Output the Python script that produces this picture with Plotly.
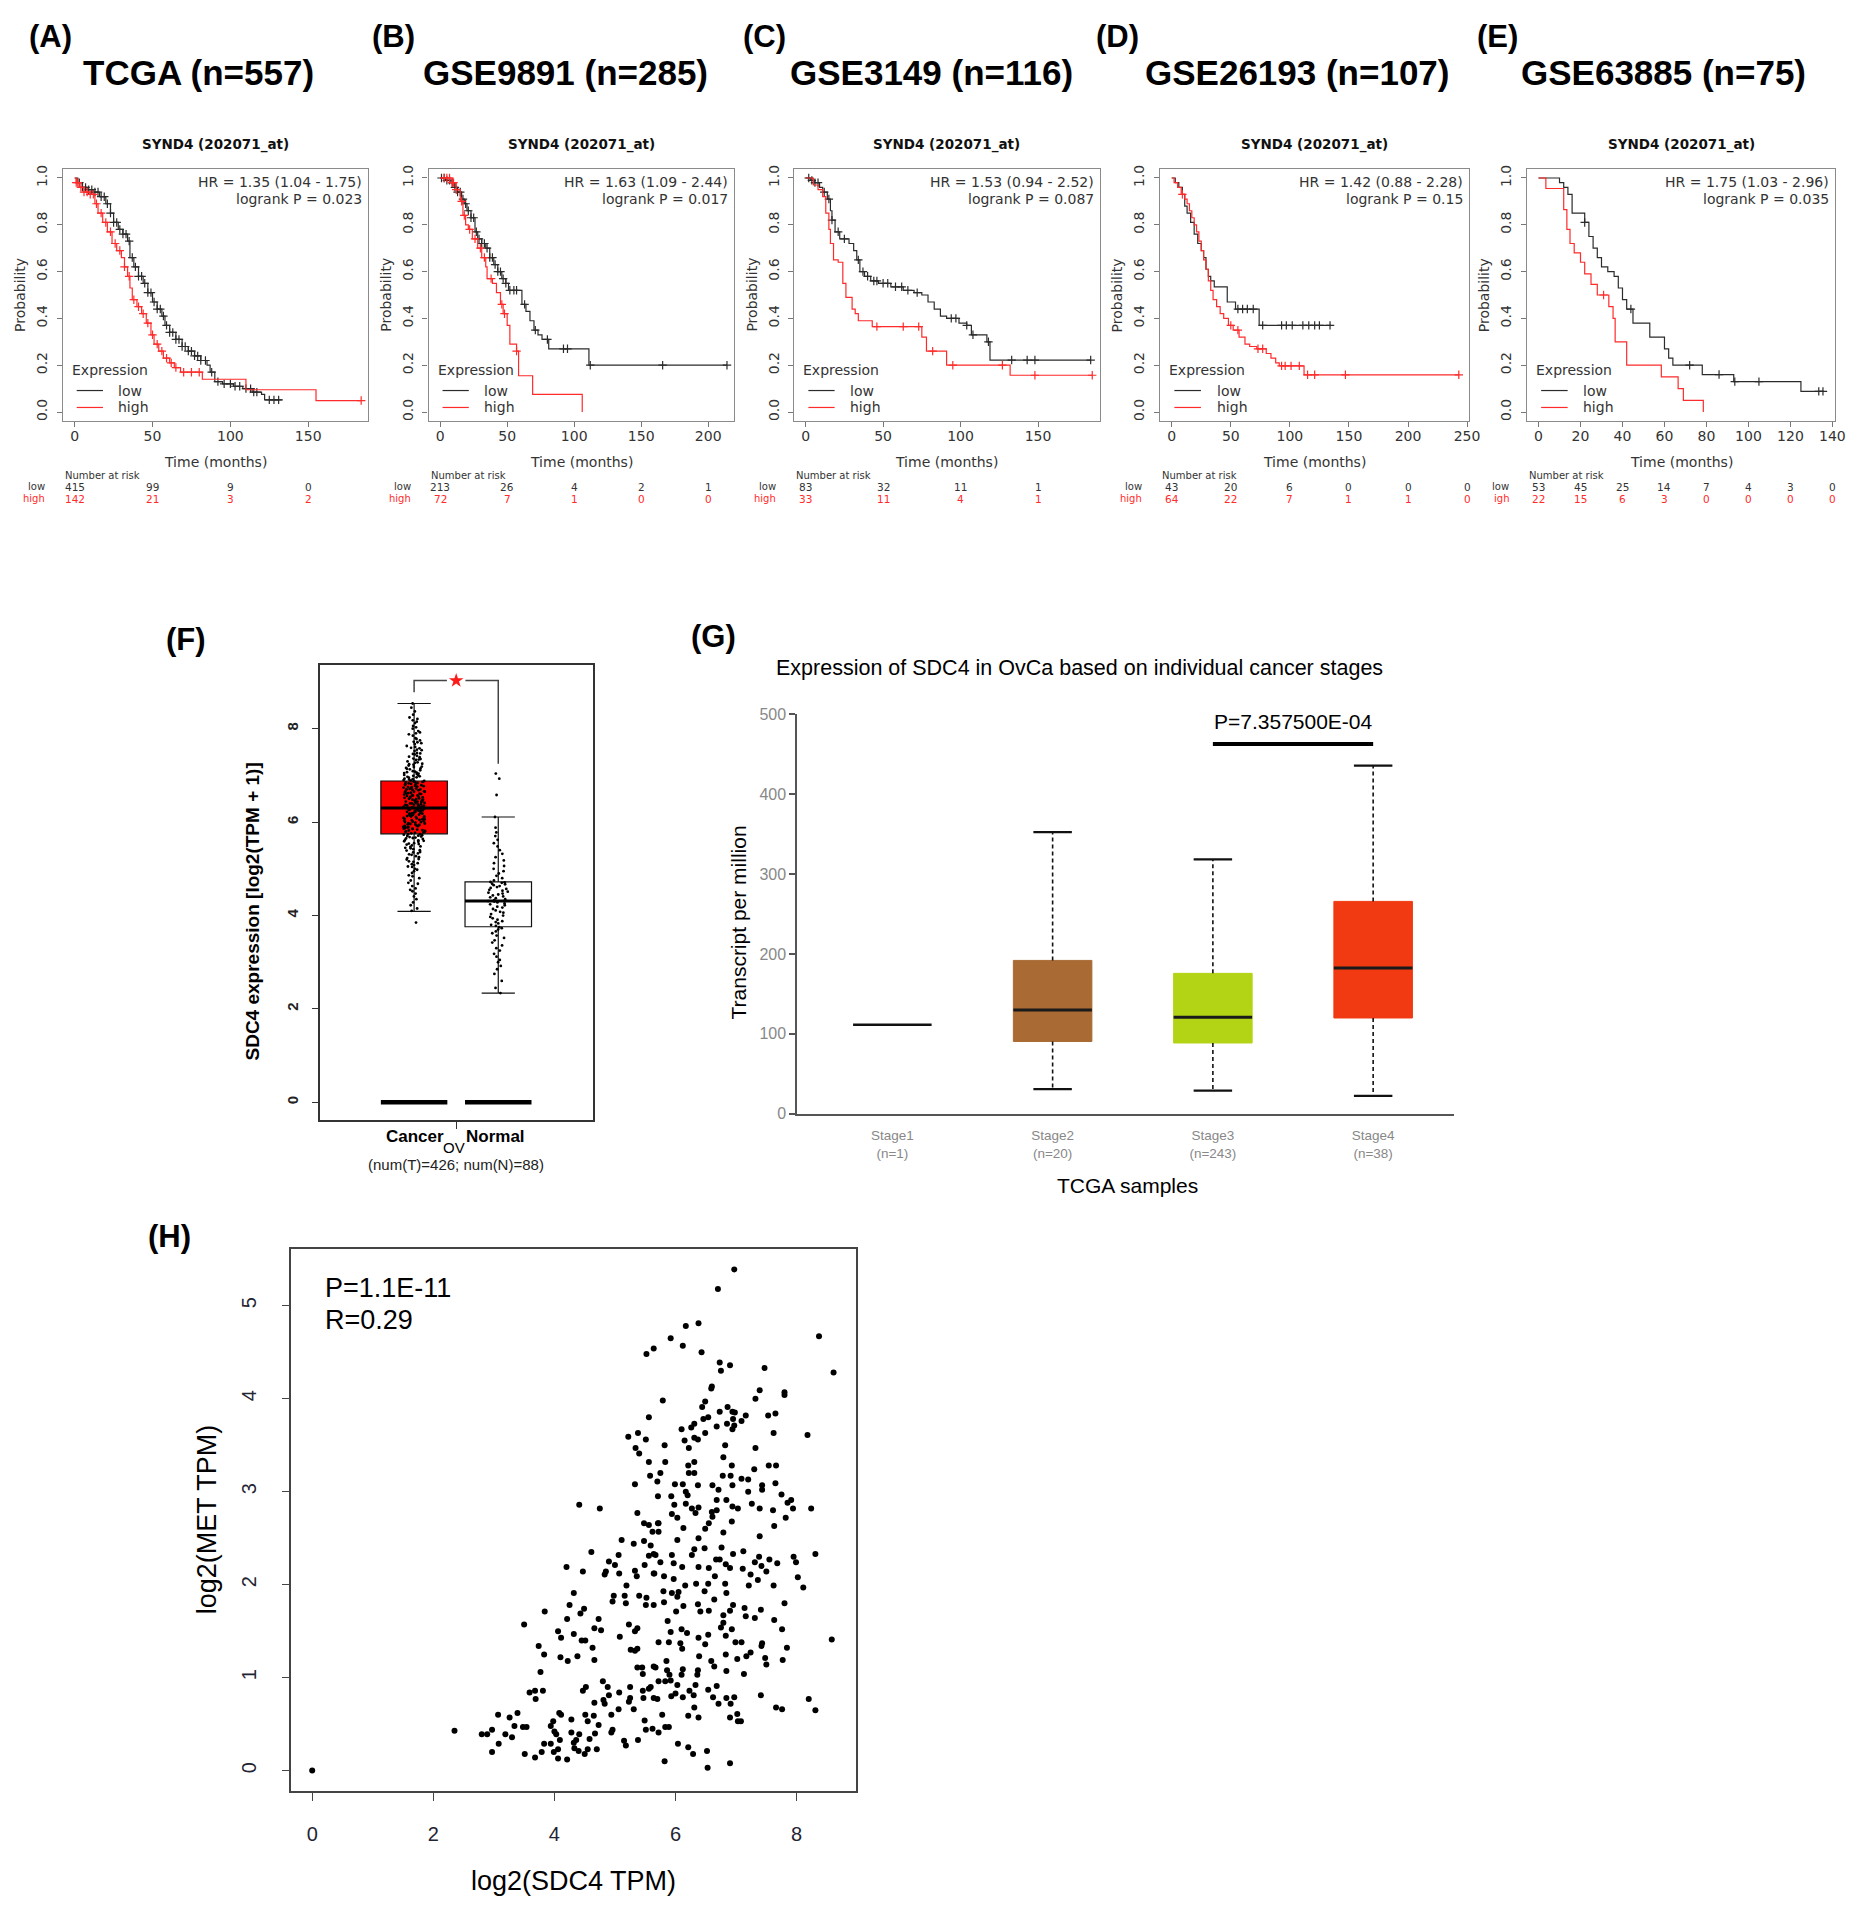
import numpy as np
import plotly.graph_objects as go

# ======================= DATA =======================
# ---- Kaplan-Meier panels (A-E) ----
km_labels = ["(A)", "(B)", "(C)", "(D)", "(E)"]
km_cohorts = ["TCGA (n=557)", "GSE9891 (n=285)", "GSE3149 (n=116)", "GSE26193 (n=107)", "GSE63885 (n=75)"]
km_title = "SYND4 (202071_at)"
km_hr = ["HR = 1.35 (1.04 - 1.75)", "HR = 1.63 (1.09 - 2.44)", "HR = 1.53 (0.94 - 2.52)",
         "HR = 1.42 (0.88 - 2.28)", "HR = 1.75 (1.03 - 2.96)"]
km_logrank = ["logrank P = 0.023", "logrank P = 0.017", "logrank P = 0.087",
              "logrank P = 0.15", "logrank P = 0.035"]
km_xticks = [[0, 50, 100, 150], [0, 50, 100, 150, 200], [0, 50, 100, 150],
             [0, 50, 100, 150, 200, 250], [0, 20, 40, 60, 80, 100, 120, 140]]
km_yticks = [0.0, 0.2, 0.4, 0.6, 0.8, 1.0]
km_yticktext = ["0.0", "0.2", "0.4", "0.6", "0.8", "1.0"]
risk_low = [[415, 99, 9, 0], [213, 26, 4, 2, 1], [83, 32, 11, 1], [43, 20, 6, 0, 0, 0],
            [53, 45, 25, 14, 7, 4, 3, 0]]
risk_high = [[142, 21, 3, 2], [72, 7, 1, 0, 0], [33, 11, 4, 1], [64, 22, 7, 1, 1, 0],
             [22, 15, 6, 3, 0, 0, 0, 0]]
risk_row_names = [["low", "high"], ["low", "high"], ["low", "high"], ["low", "high"], ["low", "igh"]]

A_low_t = [2, 5, 8, 12, 16, 20, 23, 25, 28, 31, 34, 35.5, 38, 41, 44, 47, 50, 53, 56, 58, 61, 65, 69, 73, 77,
           81, 85, 87, 90, 95, 102, 108, 114, 120, 122]
A_low_s = [0.98, 0.96, 0.95, 0.94, 0.92, 0.89, 0.85, 0.81, 0.78, 0.76, 0.73, 0.66, 0.62, 0.58, 0.55, 0.51,
           0.47, 0.44, 0.41, 0.37, 0.34, 0.31, 0.28, 0.26, 0.24, 0.22, 0.20, 0.17, 0.13, 0.12, 0.11, 0.10,
           0.085, 0.075, 0.052]
A_low_end = 133
A_low_cens = [3, 5, 7, 9, 11, 13, 15, 17, 19, 21, 23, 25, 27, 29, 31, 33, 35, 37, 39, 41, 43, 45, 47, 49, 51,
              53, 55, 57, 59, 61, 63, 65, 67, 69, 71, 73, 75, 77, 79, 81, 84, 88, 92, 96, 100, 103, 106, 110,
              113, 115, 117, 125, 128, 131]
A_high_t = [1, 3, 6, 10, 13, 15, 18, 21, 24, 27, 30, 32, 34, 35.5, 37, 40, 43, 46, 49, 51, 54, 57, 61, 64,
            68, 82, 110, 155]
A_high_s = [0.98, 0.96, 0.94, 0.93, 0.89, 0.85, 0.81, 0.77, 0.72, 0.69, 0.66, 0.62, 0.58, 0.53, 0.48, 0.45,
            0.42, 0.38, 0.33, 0.29, 0.26, 0.23, 0.21, 0.19, 0.17, 0.14, 0.095, 0.049]
A_high_end = 184
A_high_cens = [1, 2, 4, 6, 8, 10, 12, 14, 17, 20, 23, 26, 29, 32, 35, 38, 41, 44, 47, 50, 53, 56, 59, 62, 65,
               70, 75, 80, 184]

B_low_t = [4, 8, 11, 13, 16, 18, 20, 23, 26, 28, 31, 34, 37, 40, 43, 46, 49, 51, 61, 64, 67, 70, 73, 76, 81, 111]
B_low_s = [0.99, 0.98, 0.96, 0.94, 0.91, 0.89, 0.86, 0.83, 0.77, 0.74, 0.72, 0.70, 0.66, 0.63, 0.60, 0.57,
           0.55, 0.52, 0.46, 0.43, 0.39, 0.35, 0.33, 0.31, 0.27, 0.20]
B_low_end = 214
B_low_cens = [1, 3, 5, 7, 9, 11, 13, 15, 17, 19, 21, 23, 25, 27, 29, 31, 33, 35, 37, 39, 41, 43, 45, 47, 49,
              52, 55, 57, 63, 71, 80, 92, 95, 112, 166, 214]
B_high_t = [9, 12, 15, 17, 19, 21, 24, 28, 31, 34, 35, 39, 42, 45, 47, 50, 52, 57, 58.5, 69, 106]
B_high_s = [0.98, 0.95, 0.90, 0.84, 0.80, 0.78, 0.74, 0.70, 0.66, 0.62, 0.57, 0.55, 0.51, 0.46, 0.42, 0.37,
            0.29, 0.26, 0.155, 0.075, 0.0]
B_high_end = 106
B_high_cens = [3, 5, 7, 9, 10, 12, 16, 18, 22, 26, 30, 33, 38, 46, 48, 57]

C_low_t = [3, 6, 9, 11, 14, 16, 17, 19, 22, 28, 31, 33, 35, 38, 42, 47, 55, 63, 70, 75, 79, 83, 87, 91, 99,
           104, 107, 117, 119]
C_low_s = [0.99, 0.98, 0.96, 0.94, 0.91, 0.86, 0.82, 0.77, 0.74, 0.72, 0.69, 0.65, 0.60, 0.58, 0.56, 0.55,
           0.535, 0.52, 0.51, 0.50, 0.47, 0.44, 0.41, 0.40, 0.38, 0.37, 0.33, 0.30, 0.222]
C_low_end = 184
C_low_cens = [2, 4, 6, 8, 12, 15, 17, 21, 25, 34, 37, 40, 44, 46, 50, 53, 58, 62, 66, 72, 94, 97, 104, 108,
              118, 133, 143, 148, 184]
C_high_t = [5, 8, 11, 13, 15, 16, 18, 21, 24, 26, 30, 32, 34, 43, 75, 78, 91, 132]
C_high_s = [0.97, 0.95, 0.92, 0.85, 0.78, 0.72, 0.65, 0.64, 0.55, 0.49, 0.44, 0.42, 0.39, 0.365, 0.32,
            0.26, 0.20, 0.157]
C_high_end = 185
C_high_cens = [46, 63, 73, 82, 95, 127, 148, 185]

D_low_t = [3, 6, 9, 11, 13, 16, 19, 22, 25, 27, 29, 31, 33, 36, 47, 54, 74]
D_low_s = [0.98, 0.96, 0.93, 0.88, 0.85, 0.81, 0.76, 0.72, 0.69, 0.66, 0.61, 0.58, 0.56, 0.535, 0.47, 0.44,
           0.37]
D_low_end = 135
D_low_cens = [56, 60, 64, 69, 77, 93, 97, 102, 111, 116, 121, 125, 134]
D_high_t = [2, 5, 8, 11, 13, 15, 17, 19, 21, 23, 25, 27, 29, 31, 33, 35, 38, 41, 44, 48, 52, 57, 62, 66, 72,
            80, 84, 88, 91, 112]
D_high_s = [0.98, 0.96, 0.93, 0.91, 0.89, 0.86, 0.83, 0.80, 0.77, 0.73, 0.69, 0.65, 0.61, 0.56, 0.52, 0.48,
            0.45, 0.42, 0.40, 0.37, 0.35, 0.32, 0.29, 0.28, 0.27, 0.25, 0.23, 0.21, 0.197, 0.159]
D_high_end = 243
D_high_cens = [9, 50, 56, 73, 77, 93, 96, 101, 108, 115, 121, 147, 243]

E_low_t = [10, 12, 14, 16, 22, 24, 26, 28, 30, 33, 36, 38, 40, 42, 45, 53, 60, 62, 64, 78, 93, 125]
E_low_s = [0.98, 0.96, 0.93, 0.85, 0.81, 0.75, 0.70, 0.66, 0.62, 0.60, 0.58, 0.53, 0.48, 0.44, 0.38, 0.32,
           0.27, 0.23, 0.20, 0.16, 0.13, 0.088]
E_low_end = 136
E_low_cens = [22, 44, 72, 86, 93.5, 105, 133.5, 135.5]
E_high_t = [3.5, 12, 13.5, 15, 17, 20, 22, 25, 28, 33.5, 35.5, 36.5, 42, 58.5, 66.5, 69, 78.5]
E_high_s = [0.955, 0.865, 0.78, 0.72, 0.68, 0.64, 0.59, 0.545, 0.50, 0.45, 0.40, 0.30, 0.20, 0.15, 0.10,
            0.05, 0.0]
E_high_end = 78.5
E_high_cens = [31]

km_curves = [
    (A_low_t, A_low_s, A_low_end, A_low_cens, A_high_t, A_high_s, A_high_end, A_high_cens),
    (B_low_t, B_low_s, B_low_end, B_low_cens, B_high_t, B_high_s, B_high_end, B_high_cens),
    (C_low_t, C_low_s, C_low_end, C_low_cens, C_high_t, C_high_s, C_high_end, C_high_cens),
    (D_low_t, D_low_s, D_low_end, D_low_cens, D_high_t, D_high_s, D_high_end, D_high_cens),
    (E_low_t, E_low_s, E_low_end, E_low_cens, E_high_t, E_high_s, E_high_end, E_high_cens),
]

# ---- Panel F: GEPIA box plot ----
f_groups = ["Cancer", "Normal"]
f_q1 = [5.75, 3.76]
f_median = [6.30, 4.31]
f_q3 = [6.88, 4.72]
f_lowerfence = [4.09, 2.34]
f_upperfence = [8.54, 6.11]
f_cancer_pts = [3.85,
    4.10, 4.15, 4.22, 4.28, 4.35, 4.41, 4.47, 4.52, 4.58, 4.63, 4.70, 4.75, 4.80, 4.86, 4.91, 4.95, 5.00,
    5.04, 5.08, 5.12, 5.16, 5.20, 5.23, 5.27, 5.30, 5.33, 5.36, 5.39, 5.42, 5.45, 5.48, 5.50, 5.53, 5.55,
    5.58, 5.60, 5.62, 5.64, 5.66, 5.68, 5.70, 5.71, 5.72, 5.73, 5.74,
    5.76, 5.77, 5.79, 5.80, 5.81, 5.83, 5.84, 5.86, 5.87, 5.89, 5.90, 5.92, 5.93, 5.94, 5.96, 5.97, 5.99,
    6.00, 6.01, 6.03, 6.04, 6.05, 6.07, 6.08, 6.09, 6.11, 6.12, 6.13, 6.14, 6.16, 6.17, 6.18, 6.19, 6.20,
    6.21, 6.22, 6.23, 6.24, 6.25, 6.26, 6.27, 6.28, 6.29, 6.29, 6.30,
    6.31, 6.32, 6.33, 6.34, 6.35, 6.36, 6.37, 6.38, 6.40, 6.41, 6.42, 6.43, 6.45, 6.46, 6.47, 6.48, 6.50,
    6.51, 6.52, 6.54, 6.55, 6.56, 6.58, 6.59, 6.60, 6.62, 6.63, 6.64, 6.66, 6.67, 6.69, 6.70, 6.71, 6.73,
    6.74, 6.76, 6.77, 6.79, 6.80, 6.82, 6.83, 6.84, 6.85, 6.86, 6.87,
    6.89, 6.91, 6.93, 6.95, 6.97, 6.99, 7.01, 7.03, 7.05, 7.07, 7.09, 7.11, 7.14, 7.16, 7.19, 7.21, 7.24,
    7.27, 7.30, 7.33, 7.36, 7.39, 7.42, 7.45, 7.48, 7.52, 7.55, 7.59, 7.63, 7.67, 7.71, 7.75, 7.80, 7.85,
    7.90, 7.95, 8.00, 8.06, 8.12, 8.18, 8.24, 8.30, 8.37, 8.45, 8.54,
    5.05, 5.15, 5.25, 5.35, 5.44, 5.52, 5.59, 5.65, 5.69, 5.78, 5.82, 5.85, 5.88, 5.91, 5.95, 5.98, 6.02,
    6.06, 6.10, 6.15, 6.18, 6.22, 6.26, 6.33, 6.37, 6.39, 6.44, 6.49, 6.53, 6.57, 6.61, 6.65, 6.68, 6.72,
    6.75, 6.78, 6.81, 6.88, 6.92, 6.96, 7.00, 7.04, 7.08, 7.13, 7.18, 7.23, 7.28, 7.34, 7.40, 7.47, 7.54,
    7.61, 7.69, 7.78, 7.88, 8.03, 8.21, 4.55, 4.68, 4.84, 4.98, 5.10, 5.21, 5.31, 5.40, 5.47, 5.54, 5.61,
    5.67, 5.74, 5.80, 5.86, 5.90, 5.95, 6.00, 6.06, 6.12, 6.17, 6.21, 6.25, 6.28, 6.32, 6.36, 6.40, 6.44,
    6.48, 6.52, 6.57, 6.61, 6.65, 6.70, 6.75, 6.81, 6.86, 6.90, 6.98, 7.06, 7.15, 7.25, 7.35, 7.46, 7.58,
    7.72, 7.92, 8.15]
f_normal_pts = [
    2.34, 2.45, 2.60, 2.75, 2.85, 2.92, 3.00, 3.05, 3.12, 3.18, 3.25, 3.30, 3.36, 3.42, 3.47, 3.52, 3.57,
    3.62, 3.66, 3.70, 3.73, 3.75,
    3.78, 3.80, 3.83, 3.86, 3.88, 3.91, 3.94, 3.97, 4.00, 4.03, 4.06, 4.08, 4.11, 4.14, 4.17, 4.19, 4.22,
    4.24, 4.26, 4.28, 4.30, 4.31,
    4.33, 4.35, 4.37, 4.39, 4.41, 4.43, 4.45, 4.47, 4.49, 4.51, 4.53, 4.55, 4.57, 4.59, 4.61, 4.63, 4.65,
    4.67, 4.68, 4.70, 4.71, 4.72,
    4.75, 4.80, 4.85, 4.90, 4.95, 5.00, 5.06, 5.12, 5.18, 5.25, 5.32, 5.40, 5.48, 5.55, 5.62, 5.70, 5.78,
    5.88, 6.11, 6.58, 6.93, 7.04]
f_bracket_top = 9.03
f_bracket_left_bottom = 8.78
f_bracket_right_bottom = 7.25
f_yticks = [0, 2, 4, 6, 8]

# ---- Panel G: UALCAN stage box plot ----
g_stages = ["Stage1", "Stage2", "Stage3", "Stage4"]
g_n = ["(n=1)", "(n=20)", "(n=243)", "(n=38)"]
g_stage1_value = 111.4
g_q1 = [90.5, 88.6, 119.9]        # Stage2..Stage4
g_median = [129.9, 120.9, 182.5]
g_q3 = [192.0, 175.8, 265.9]
g_lower = [30.8, 28.9, 22.3]
g_upper = [352.6, 318.5, 436.0]
g_colors = ["#A96B33", "#B3D415", "#F13A12"]
g_pvalue_text = "P=7.357500E-04"
g_bracket_value = 463
g_yticks = [0, 100, 200, 300, 400, 500]

# ---- Panel H: scatter ----
h_points = [
    (0.00, 0.00),
    (5.52, 4.48), (5.64, 4.54), (5.56, 3.80), (5.22, 3.59), (5.38, 3.63), (5.51, 3.56), (5.34, 3.47),
    (5.40, 3.41), (5.56, 3.32), (5.58, 3.17), (5.33, 3.08), (4.41, 2.86), (4.75, 2.82), (5.37, 2.77),
    (5.48, 2.66),
    (6.97, 5.39), (6.70, 5.18), (6.17, 4.78), (6.38, 4.81), (5.92, 4.65), (6.12, 4.57), (6.43, 4.50),
    (8.37, 4.67), (8.61, 4.28), (6.73, 4.39), (6.90, 4.36), (6.75, 4.30), (7.47, 4.33), (6.60, 4.13),
    (6.59, 4.11), (7.39, 4.09), (7.80, 4.07), (7.80, 4.04), (7.32, 4.00), (5.79, 3.98), (6.49, 3.97),
    (6.44, 3.91), (6.86, 3.91), (6.94, 3.86), (6.73, 3.86), (6.98, 3.85), (7.16, 3.82), (6.54, 3.80),
    (6.46, 3.78), (7.53, 3.82), (7.65, 3.84), (6.95, 3.78), (7.09, 3.76), (6.85, 3.73), (6.97, 3.71),
    (6.94, 3.67), (6.31, 3.73), (6.26, 3.69), (6.10, 3.67), (6.68, 3.70), (6.49, 3.63), (7.62, 3.63),
    (8.18, 3.61), (6.15, 3.55), (6.31, 3.58), (6.37, 3.56), (5.82, 3.50), (6.22, 3.47), (6.82, 3.50),
    (7.32, 3.47), (6.79, 3.37), (5.83, 3.32), (6.21, 3.28), (6.31, 3.32), (6.93, 3.28), (7.30, 3.24),
    (7.54, 3.28), (7.66, 3.28), (6.22, 3.20), (6.31, 3.20), (5.75, 3.20), (5.70, 3.11), (6.78, 3.17),
    (6.91, 3.17), (7.09, 3.14), (7.20, 3.13), (5.99, 3.08), (6.12, 3.08), (6.37, 3.07), (6.61, 3.07),
    (6.94, 3.07), (7.43, 3.07), (7.65, 3.09), (6.17, 3.00), (6.20, 2.96), (5.93, 2.95), (5.71, 2.95),
    (6.71, 3.02), (7.20, 3.00), (7.43, 3.02), (7.75, 2.97), (6.68, 2.91), (6.84, 2.91), (6.17, 2.87),
    (5.98, 2.86), (6.27, 2.82), (6.38, 2.83), (6.94, 2.84), (7.03, 2.82), (7.26, 2.87), (7.39, 2.82),
    (7.61, 2.80), (7.85, 2.88), (7.91, 2.91), (7.94, 2.82), (8.24, 2.82), (5.94, 2.76), (6.03, 2.72),
    (6.33, 2.77), (6.60, 2.78), (6.68, 2.80), (6.61, 2.73), (5.71, 2.66), (6.93, 2.68), (7.82, 2.72),
    (5.62, 2.57), (5.11, 2.48), (5.31, 2.44), (5.48, 2.47), (5.59, 2.42), (4.61, 2.35), (5.06, 2.32),
    (5.56, 2.31), (5.64, 2.33), (4.20, 2.19), (4.90, 2.25), (5.00, 2.21), (5.49, 2.21), (4.85, 2.14),
    (4.83, 2.11), (4.47, 2.14), (5.07, 2.12), (5.33, 2.15), (5.36, 2.09), (5.64, 2.12), (5.19, 1.99),
    (4.32, 1.91), (4.98, 1.88), (4.96, 1.82), (5.16, 1.88), (5.18, 1.80), (5.40, 1.88), (5.52, 1.86),
    (5.51, 1.78), (5.64, 1.78), (4.25, 1.78), (3.84, 1.71), (4.49, 1.74), (4.43, 1.69), (4.21, 1.63),
    (4.73, 1.63), (3.50, 1.57), (5.23, 1.57), (5.37, 1.53), (5.33, 1.50), (4.66, 1.53), (4.77, 1.51),
    (4.06, 1.50), (4.11, 1.43), (4.32, 1.47), (4.45, 1.40), (4.51, 1.40), (5.08, 1.44), (3.74, 1.34),
    (3.83, 1.25), (4.10, 1.22), (4.22, 1.18), (4.38, 1.23), (4.63, 1.32), (4.66, 1.19), (5.26, 1.30),
    (5.37, 1.31), (5.33, 1.29), (3.77, 1.06), (5.37, 1.11), (5.45, 1.11), (5.46, 1.04), (5.64, 1.12),
    (4.47, 0.86), (4.52, 0.90), (4.80, 0.96), (4.88, 0.90), (4.90, 0.81), (4.81, 0.76), (4.83, 0.72),
    (5.07, 0.84), (5.25, 0.90), (5.25, 0.78), (5.23, 0.74), (5.46, 0.86), (5.47, 0.78), (5.56, 0.88),
    (5.64, 0.78), (3.59, 0.84), (3.68, 0.86), (3.81, 0.86), (3.69, 0.77), (4.66, 0.73), (5.31, 0.66),
    (5.06, 0.66), (4.94, 0.60), (3.07, 0.60), (3.39, 0.62), (3.26, 0.57), (3.34, 0.48), (3.48, 0.47),
    (3.54, 0.47), (4.08, 0.62), (4.11, 0.60), (4.28, 0.55), (4.51, 0.60), (4.65, 0.59), (4.55, 0.53),
    (3.98, 0.53), (3.94, 0.48), (4.73, 0.49), (5.49, 0.54), (5.51, 0.44), (5.62, 0.45), (2.35, 0.43),
    (2.80, 0.39), (2.89, 0.39), (2.97, 0.44), (3.19, 0.39), (3.30, 0.36), (3.08, 0.29), (2.97, 0.20),
    (4.00, 0.42), (4.03, 0.39), (4.28, 0.41), (4.41, 0.39), (4.36, 0.33), (4.32, 0.30), (4.58, 0.34),
    (4.67, 0.40), (4.94, 0.41), (4.96, 0.44), (4.09, 0.33), (3.83, 0.29), (3.94, 0.29), (5.15, 0.32),
    (5.18, 0.27), (5.38, 0.33), (4.06, 0.23), (3.99, 0.20), (4.06, 0.13), (4.21, 0.12), (3.79, 0.20),
    (3.68, 0.14), (3.51, 0.18), (4.33, 0.24), (4.40, 0.21), (4.50, 0.18), (4.55, 0.23), (4.70, 0.23),
    (7.63, 2.63), (7.39, 2.52), (8.31, 2.33), (5.56, 2.64), (5.72, 2.66), (5.72, 2.57), (6.13, 2.61),
    (6.49, 2.60), (6.55, 2.66), (6.79, 2.56), (6.03, 2.48), (6.38, 2.50), (6.31, 2.38), (6.48, 2.39),
    (6.76, 2.40), (5.67, 2.32), (5.75, 2.24), (5.94, 2.32), (5.97, 2.23), (6.11, 2.19), (6.27, 2.32),
    (6.38, 2.19), (6.55, 2.18), (6.67, 2.27), (6.73, 2.27), (6.95, 2.33), (7.12, 2.36), (6.90, 2.18),
    (6.83, 2.22), (7.11, 2.17), (7.31, 2.24), (7.38, 2.30), (7.42, 2.20), (7.50, 2.14), (7.55, 2.27),
    (7.68, 2.23), (7.95, 2.30), (7.99, 2.24), (7.24, 2.11), (7.36, 2.05), (7.21, 1.99), (7.62, 1.99),
    (8.02, 2.08), (8.11, 1.97), (5.65, 2.12), (5.81, 2.09), (5.97, 2.06), (6.16, 1.99), (6.34, 2.01),
    (6.48, 1.93), (6.54, 2.01), (6.65, 2.09), (6.82, 2.01), (6.84, 1.91), (5.80, 1.93), (5.94, 1.91),
    (6.03, 1.87), (6.05, 1.92), (6.13, 1.77), (5.81, 1.81), (6.37, 1.79), (6.41, 1.71), (6.55, 1.72),
    (6.64, 1.84), (6.95, 1.78), (6.90, 1.72), (7.14, 1.75), (7.16, 1.66), (7.31, 1.64), (7.41, 1.73),
    (7.63, 1.62), (7.80, 1.80), (7.76, 1.52), (6.01, 1.71), (5.87, 1.61), (5.92, 1.49), (6.10, 1.52),
    (6.19, 1.48), (6.79, 1.67), (6.79, 1.59), (6.75, 1.54), (6.93, 1.52), (6.83, 1.45), (6.54, 1.46),
    (6.38, 1.43), (5.72, 1.38), (5.89, 1.38), (6.08, 1.37), (6.11, 1.31), (6.49, 1.36), (6.99, 1.38),
    (7.09, 1.38), (7.43, 1.37), (7.42, 1.34), (7.84, 1.32), (8.58, 1.41), (6.39, 1.23), (6.59, 1.18),
    (6.64, 1.12), (6.83, 1.25), (7.02, 1.20), (7.17, 1.23), (7.24, 1.27), (7.48, 1.21), (7.50, 1.14),
    (7.77, 1.19), (5.85, 1.18), (5.67, 1.11), (5.86, 1.08), (5.90, 1.03), (5.92, 0.97), (5.83, 0.96),
    (6.12, 1.09), (6.10, 1.03), (6.37, 1.08), (6.36, 1.03), (6.84, 1.07), (7.13, 1.04), (5.72, 0.96),
    (5.59, 0.90), (5.70, 0.77), (6.03, 0.92), (6.00, 0.83), (5.93, 0.80), (6.12, 0.79), (6.23, 0.86),
    (6.30, 0.81), (6.33, 0.92), (6.31, 0.68), (6.54, 0.87), (6.62, 0.79), (6.68, 0.91), (6.71, 0.72),
    (6.84, 0.78), (6.91, 0.72), (6.97, 0.79), (7.41, 0.81), (7.66, 0.68), (7.76, 0.66), (8.20, 0.77),
    (8.31, 0.65), (5.78, 0.60), (6.21, 0.59), (6.38, 0.57), (6.90, 0.57), (7.02, 0.61), (7.03, 0.53),
    (7.08, 0.53), (5.72, 0.41), (5.83, 0.47), (5.89, 0.47), (6.04, 0.29), (6.21, 0.25), (6.29, 0.18),
    (6.52, 0.21), (5.82, 0.10), (6.53, 0.03), (6.90, 0.08),
]
h_sdc4 = [p[0] for p in h_points]
h_met = [p[1] for p in h_points]
h_xticks = [0, 2, 4, 6, 8]
h_yticks = [0, 1, 2, 3, 4, 5]
h_stats = ["P=1.1E-11", "R=0.29"]

# ======================= LAYOUT HELPERS =======================
# The page body has an 8px default margin; the figure is sized so that it fills the
# 1870x1920 viewport exactly and all positions are given in page pixels.
PAGE_OFF = 8
W, H = 1870 - PAGE_OFF, 1920 - PAGE_OFF


def px(x):
    return (x - PAGE_OFF) / W


def py(y):
    return 1 - (y - PAGE_OFF) / H


def refs(k):
    s = "" if k == 1 else str(k)
    return "xaxis" + s, "yaxis" + s, "x" + s, "y" + s


ARIAL = "Liberation Sans, Arial, sans-serif"
DEJAVU = "DejaVu Sans, sans-serif"
NARROW = "Liberation Sans Narrow, Liberation Sans, Arial, sans-serif"

fig = go.Figure()
layout = dict(width=W, height=H, margin=dict(l=0, r=0, t=0, b=0), paper_bgcolor="white",
              plot_bgcolor="white", showlegend=False, boxmode="overlay")
annotations = []
shapes = []


def ann(text, x, y, size, color="#000", family=ARIAL, weight="normal", xanchor="center",
        yanchor="middle", textangle=0, xref="paper", yref="paper"):
    annotations.append(dict(text=text, x=x, y=y, xref=xref, yref=yref, showarrow=False,
                            xanchor=xanchor, yanchor=yanchor, textangle=textangle,
                            font=dict(size=size, color=color, family=family, weight=weight)))


# ======================= KM PANELS =======================
km_frame_x = [(63, 370), (431, 738), (799, 1106), (1167, 1478), (1536, 1846)]
km_frame_y = (162, 417)
km_xrange = [(-7.7, 188.3), (-8.7, 219.0), (-7.3, 189.7), (-9.8, 251.9), (-5.5, 141.3)]
km_label_cx = [51, 396, 769, 1124, 1506]
km_cohort_cx = [200, 569, 937, 1305, 1673]
LOW_COL = "#2b2b2b"
HIGH_COL = "#ff2a2a"


def surv_at(ts, ss, c):
    idx = np.searchsorted(np.array(ts), c, side="right") - 1
    return 1.0 if idx < 0 else ss[idx]


for i in range(5):
    k = i + 1
    xa, ya, xr, yr = refs(k)
    fx0, fx1 = km_frame_x[i]
    fy0, fy1 = km_frame_y
    lt, ls, lend, lc, ht, hs, hend, hc = km_curves[i]
    for t, s, end, cens, col in [(lt, ls, lend, lc, LOW_COL), (ht, hs, hend, hc, HIGH_COL)]:
        xs = [0] + list(t) + [end]
        ys = [1.0] + list(s) + [s[-1]]
        fig.add_trace(go.Scatter(x=xs, y=ys, mode="lines", line=dict(color=col, width=1.2, shape="hv"),
                                 xaxis=xr, yaxis=yr, hoverinfo="skip"))
        cy = [surv_at(t, s, c) for c in cens]
        fig.add_trace(go.Scatter(x=cens, y=cy, mode="markers",
                                 marker=dict(symbol="cross-thin", size=6, line=dict(width=1.2, color=col)),
                                 xaxis=xr, yaxis=yr, hoverinfo="skip"))
    layout[xa] = dict(domain=[px(fx0), px(fx1)], range=list(km_xrange[i]), anchor=yr,
                      tickvals=km_xticks[i], ticks="outside", ticklen=5, tickcolor="#777",
                      showline=True, mirror=True, linecolor="#8a8a8a", linewidth=1.2,
                      showgrid=False, zeroline=False, ticklabelstandoff=-3,
                      tickfont=dict(family=DEJAVU, size=14, color="#333"))
    layout[ya] = dict(domain=[py(fy1), py(fy0)], range=[-0.04, 1.04], anchor=xr,
                      tickvals=km_yticks, ticktext=km_yticktext, tickangle=-90,
                      ticks="outside", ticklen=5, tickcolor="#777",
                      showline=True, mirror=True, linecolor="#8a8a8a", linewidth=1.2,
                      showgrid=False, zeroline=False, ticklabelstandoff=4,
                      tickfont=dict(family=DEJAVU, size=14, color="#333"))
    cx = (fx0 + fx1) / 2
    # headers
    ann(km_labels[i], px(km_label_cx[i]), py(29), 31, weight="bold")
    ann(km_cohorts[i], px(km_cohort_cx[i]), py(65), 35, weight="bold")
    ann(km_title, px(cx), py(138), 13.5, color="#111", family=DEJAVU, weight="bold")
    ann(km_hr[i], px(fx1 - 4), py(175), 14, color="#333", family=DEJAVU, xanchor="right")
    ann(km_logrank[i], px(fx1 - 4), py(193), 14, color="#333", family=DEJAVU, xanchor="right")
    ann("Time (months)", px(cx), py(458), 14, color="#333", family=DEJAVU)
    ann("Probability", px(fx0 - 43), py((fy0 + fy1) / 2), 14, color="#333", family=DEJAVU, textangle=-90)
    # legend
    dxr = xr + " domain"
    dyr = yr + " domain"
    ann("Expression", 0.023, 0.204, 14, color="#333", family=DEJAVU, xanchor="left", xref=dxr, yref=dyr)
    ann("low", 0.176, 0.122, 14, color="#333", family=DEJAVU, xanchor="left", xref=dxr, yref=dyr)
    ann("high", 0.176, 0.055, 14, color="#333", family=DEJAVU, xanchor="left", xref=dxr, yref=dyr)
    shapes.append(dict(type="line", xref=dxr, yref=dyr, x0=0.046, x1=0.132, y0=0.122, y1=0.122,
                       line=dict(color=LOW_COL, width=1.2)))
    shapes.append(dict(type="line", xref=dxr, yref=dyr, x0=0.046, x1=0.132, y0=0.055, y1=0.055,
                       line=dict(color=HIGH_COL, width=1.2)))
    # number at risk
    ann("Number at risk", px(fx0), py(471.5), 10, color="#333", family=DEJAVU, xanchor="left")
    ann(risk_row_names[i][0], px(fx0 - 16), py(483), 10, color="#333", family=DEJAVU, xanchor="right")
    ann(risk_row_names[i][1], px(fx0 - 16), py(495), 10, color=HIGH_COL, family=DEJAVU, xanchor="right")
    for j, tv in enumerate(km_xticks[i]):
        ann(str(risk_low[i][j]), tv, py(483), 10.5, color="#333", family=DEJAVU, xref=xr)
        ann(str(risk_high[i][j]), tv, py(495), 10.5, color=HIGH_COL, family=DEJAVU, xref=xr)

# ======================= PANEL F =======================
kF = 6
xaF, yaF, xrF, yrF = refs(kF)
f_pos = [1, 2]
f_width = 0.79
f_fill = ["#ff0000", "#ffffff"]
for gi in range(2):
    fig.add_trace(go.Box(x=[f_pos[gi]], q1=[f_q1[gi]], median=[f_median[gi]], q3=[f_q3[gi]],
                         lowerfence=[f_lowerfence[gi]], upperfence=[f_upperfence[gi]],
                         fillcolor=f_fill[gi], line=dict(color="#111", width=1.2), whiskerwidth=0.5,
                         width=f_width, boxpoints=False, xaxis=xrF, yaxis=yrF, hoverinfo="skip"))
for gi, pts in enumerate([f_cancer_pts, f_normal_pts]):
    fig.add_trace(go.Box(x=[f_pos[gi]] * len(pts), y=pts, boxpoints="all", jitter=0.33, pointpos=0,
                         fillcolor="rgba(0,0,0,0)", line=dict(width=0, color="rgba(0,0,0,0)"),
                         marker=dict(size=2.8, color="#000"), width=f_width,
                         xaxis=xrF, yaxis=yrF, hoverinfo="skip"))
for gi in range(2):
    p = f_pos[gi]
    fig.add_trace(go.Scatter(x=[p - f_width / 2, p + f_width / 2], y=[f_median[gi]] * 2, mode="lines",
                             line=dict(color="#000", width=3), xaxis=xrF, yaxis=yrF, hoverinfo="skip"))
    fig.add_trace(go.Scatter(x=[p - f_width / 2, p + f_width / 2], y=[0, 0], mode="lines",
                             line=dict(color="#000", width=4.5), xaxis=xrF, yaxis=yrF, hoverinfo="skip"))
f_mid = (f_pos[0] + f_pos[1]) / 2
f_gap = 0.11
fig.add_trace(go.Scatter(
    x=[f_pos[0], f_pos[0], f_mid - f_gap, None, f_mid + f_gap, f_pos[1], f_pos[1]],
    y=[f_bracket_left_bottom, f_bracket_top, f_bracket_top, None, f_bracket_top, f_bracket_top,
       f_bracket_right_bottom],
    mode="lines", line=dict(color="#444", width=1.5), xaxis=xrF, yaxis=yrF, hoverinfo="skip"))
fig.add_trace(go.Scatter(x=[f_mid], y=[f_bracket_top], mode="markers",
                         marker=dict(symbol="star", size=11, color="#ff1a1a"),
                         xaxis=xrF, yaxis=yrF, hoverinfo="skip"))
layout[xaF] = dict(domain=[px(321.7), px(596)], range=[-0.12, 3.12], anchor=yrF, tickvals=[f_mid],
                   ticktext=[""], ticks="outside", ticklen=7, tickcolor="#333", showline=True, mirror=True,
                   linecolor="#333", linewidth=1.5, showgrid=False, zeroline=False)
layout[yaF] = dict(domain=[py(1122), py(663)], range=[-0.38, 9.36], anchor=xrF, tickvals=f_yticks,
                   tickangle=-90, ticks="outside", ticklen=6, tickcolor="#333", showline=True, mirror=True,
                   linecolor="#333", linewidth=1.5, showgrid=False, zeroline=False, ticklabelstandoff=8,
                   tickfont=dict(family=ARIAL, size=15, color="#222", weight="bold"))
ann("(F)", px(187), py(637), 31, weight="bold")
ann("SDC4 expression [log2(TPM + 1)]", px(254), py(912), 19, weight="bold", textangle=-90)
ann(f_groups[0], px(417.5), py(1139), 17, weight="bold")
ann(f_groups[1], px(498.5), py(1139), 17, weight="bold")
ann("OV", px(457), py(1150), 15)
ann("(num(T)=426; num(N)=88)", px(459), py(1167), 15, color="#222")

# ======================= PANEL G =======================
kG = 7
xaG, yaG, xrG, yrG = refs(kG)
g_bw = 0.49
g_cap = 0.12
fig.add_trace(go.Scatter(x=[0 - g_bw / 2, 0 + g_bw / 2], y=[g_stage1_value] * 2, mode="lines",
                         line=dict(color="#111", width=2.5), xaxis=xrG, yaxis=yrG, hoverinfo="skip"))
for si in range(3):
    pos = si + 1
    fig.add_trace(go.Scatter(x=[pos, pos, None, pos, pos], y=[g_q3[si], g_upper[si], None, g_q1[si], g_lower[si]],
                             mode="lines", line=dict(color="#111", width=1.6, dash="4px,3px"),
                             xaxis=xrG, yaxis=yrG, hoverinfo="skip"))
    fig.add_trace(go.Scatter(x=[pos - g_cap, pos + g_cap, None, pos - g_cap, pos + g_cap],
                             y=[g_upper[si], g_upper[si], None, g_lower[si], g_lower[si]],
                             mode="lines", line=dict(color="#111", width=2.2),
                             xaxis=xrG, yaxis=yrG, hoverinfo="skip"))
    fig.add_trace(go.Box(x=[pos], q1=[g_q1[si]], median=[g_median[si]], q3=[g_q3[si]],
                         lowerfence=[g_q1[si]], upperfence=[g_q3[si]], fillcolor=g_colors[si],
                         line=dict(color=g_colors[si], width=1), width=g_bw, whiskerwidth=0,
                         boxpoints=False, xaxis=xrG, yaxis=yrG, hoverinfo="skip"))
    fig.add_trace(go.Scatter(x=[pos - g_bw / 2, pos + g_bw / 2], y=[g_median[si]] * 2, mode="lines",
                             line=dict(color="#1a1a1a", width=3), xaxis=xrG, yaxis=yrG, hoverinfo="skip"))
fig.add_trace(go.Scatter(x=[2, 3], y=[g_bracket_value] * 2, mode="lines", line=dict(color="#000", width=4),
                         xaxis=xrG, yaxis=yrG, hoverinfo="skip"))
layout[xaG] = dict(domain=[px(802), px(1463)], range=[-0.593, 3.507], anchor=yrG, tickvals=[0, 1, 2, 3],
                   ticktext=[f"{s}<br>{n}" for s, n in zip(g_stages, g_n)], ticks="", showline=True,
                   linecolor="#555", linewidth=2, showgrid=False, zeroline=False, ticklabelstandoff=8,
                   tickfont=dict(family=NARROW, size=13.5, color="#888"))
layout[yaG] = dict(domain=[py(1115.6), py(712.7)], range=[0, 500], anchor=xrG, tickvals=g_yticks,
                   ticks="outside", ticklen=6, tickcolor="#555", tickwidth=1.5, showline=True,
                   linecolor="#555", linewidth=2, showgrid=False, zeroline=False,
                   tickfont=dict(family=NARROW, size=16, color="#888"))
ann("(G)", px(718), py(634), 31, weight="bold")
ann("Expression of SDC4 in OvCa based on individual cancer stages", px(1086), py(666), 21.5)
ann(g_pvalue_text, 2.5, py(720), 21, xref=xrG)
ann("Transcript per million", px(743), py(923), 21, textangle=-90)
ann("TCGA samples", px(1134), py(1188), 21)

# ======================= PANEL H =======================
kH = 8
xaH, yaH, xrH, yrH = refs(kH)
fig.add_trace(go.Scatter(x=h_sdc4, y=h_met, mode="markers", marker=dict(size=6, color="#000"),
                         xaxis=xrH, yaxis=yrH, hoverinfo="skip"))
layout[xaH] = dict(domain=[px(293), px(861)], range=[-0.345, 8.98], anchor=yrH, tickvals=h_xticks,
                   ticks="outside", ticklen=8, tickcolor="#444", showline=True, mirror=True,
                   linecolor="#444", linewidth=1.6, showgrid=False, zeroline=False, ticklabelstandoff=16,
                   tickfont=dict(family=ARIAL, size=20, color="#1f2533"))
layout[yaH] = dict(domain=[py(1799), py(1252)], range=[-0.22, 5.61], anchor=xrH, tickvals=h_yticks,
                   tickangle=-90, ticks="outside", ticklen=8, tickcolor="#444", showline=True, mirror=True,
                   linecolor="#444", linewidth=1.6, showgrid=False, zeroline=False, ticklabelstandoff=18,
                   tickfont=dict(family=ARIAL, size=20, color="#1f2533"))
ann("(H)", px(170), py(1239), 31, weight="bold")
ann(h_stats[0], px(325), py(1291), 27, xanchor="left")
ann(h_stats[1], px(325), py(1324), 27, xanchor="left")
ann("log2(MET TPM)", px(208), py(1525), 27, textangle=-90)
ann("log2(SDC4 TPM)", px(577), py(1890), 27)

layout["annotations"] = annotations
layout["shapes"] = shapes
fig.update_layout(**layout)
fig.write_html("out.html")
